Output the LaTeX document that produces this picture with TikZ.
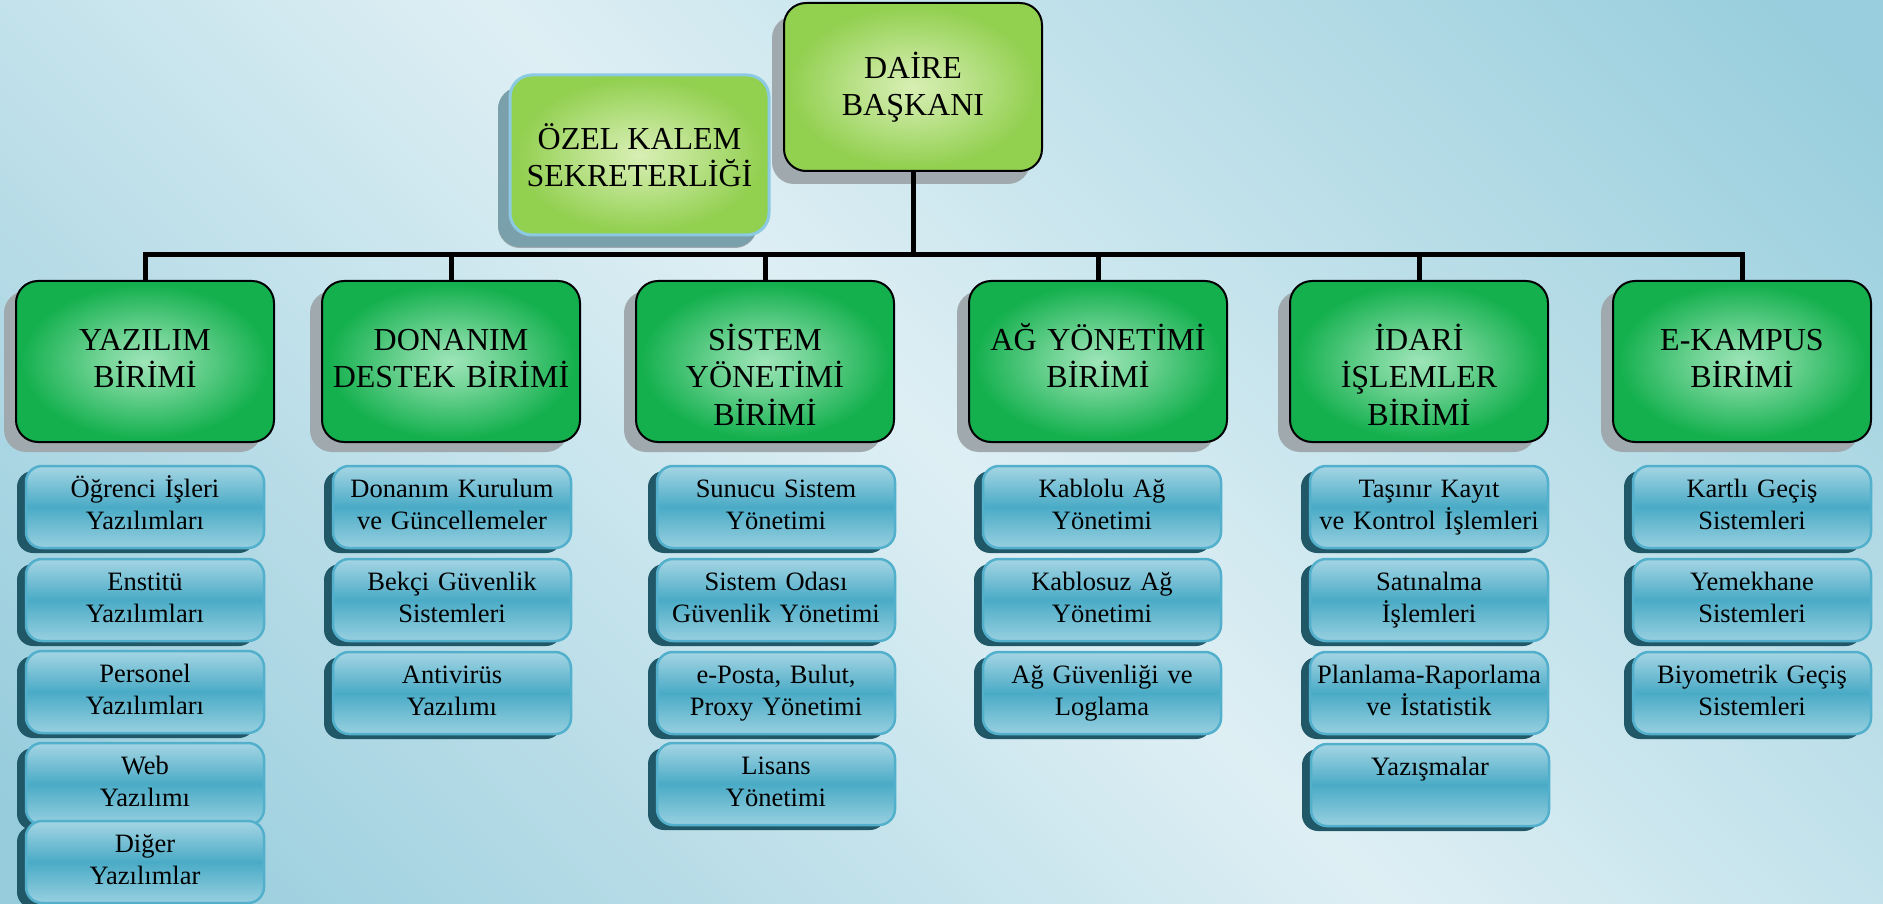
\documentclass[tikz,border=0pt]{standalone}
\usepackage{fontspec}
\setmainfont{Liberation Serif}
\usetikzlibrary{shadows}

\definecolor{bglight}{RGB}{222,239,244}
\definecolor{bgdark}{RGB}{152,206,221}
\definecolor{bgdarkb}{RGB}{150,204,220}
\definecolor{unitin}{RGB}{158,229,184}
\definecolor{unitout}{RGB}{20,176,78}
\colorlet{unitmid}{unitin!70!unitout}
\definecolor{headin}{RGB}{216,239,180}
\definecolor{headout}{RGB}{146,208,80}
\colorlet{headmid}{headin!70!headout}
\definecolor{headedge}{RGB}{140,202,226}
\definecolor{bluetop}{RGB}{165,213,228}
\definecolor{bluemid}{RGB}{74,171,198}
\definecolor{bluebot}{RGB}{152,208,224}
\definecolor{blueedge}{RGB}{82,176,204}
\definecolor{blueshadow}{RGB}{33,88,104}
\definecolor{greyshadow}{RGB}{160,169,173}
\definecolor{ozelshadow}{RGB}{122,160,172}

\pgfdeclarehorizontalshading{bgshade}{100bp}{color(0bp)=(bgdarkb); color(17bp)=(bgdarkb); color(50bp)=(bglight); color(83bp)=(bgdark); color(100bp)=(bgdark)}
\pgfdeclareradialshading{unitglow}{\pgfpoint{0bp}{0bp}}{color(0bp)=(unitin); color(8bp)=(unitmid); color(24bp)=(unitout); color(50bp)=(unitout)}
\pgfdeclareradialshading{headglow}{\pgfpoint{0bp}{0bp}}{color(0bp)=(headin); color(8bp)=(headmid); color(24bp)=(headout); color(50bp)=(headout)}

\tikzset{
  link/.style={line width=5pt, black},
  head/.style={rounded corners=22pt, draw=black, line width=2pt, shade, shading=headglow,
    minimum width=258pt, minimum height=168pt, inner sep=0pt, align=center,
    font=\fontsize{32}{37.5}\selectfont,
    drop shadow={shadow xshift=-12pt, shadow yshift=-13pt, fill=greyshadow, opacity=1}},
  ozelbox/.style={head, draw=headedge, line width=3pt, minimum width=259pt, minimum height=160pt,
    drop shadow={shadow xshift=-12pt, shadow yshift=-12pt, fill=ozelshadow, opacity=1}},
  unit/.style={rounded corners=22pt, draw=black, line width=2pt, shade, shading=unitglow,
    text width=258pt, inner sep=0pt, align=center, text height=69pt, text depth=92pt,
    font=\fontsize{32}{37.5}\selectfont,
    drop shadow={shadow xshift=-12pt, shadow yshift=-10pt, fill=greyshadow, opacity=1}},
  sub/.style={rounded corners=16pt, draw=blueedge, line width=2.5pt,
    top color=bluetop, bottom color=bluebot, middle color=bluemid,
    text width=238pt, inner sep=0pt, align=center, text height=31pt, text depth=51pt,
    font=\fontsize{26.5}{32}\selectfont,
    drop shadow={shadow xshift=-9pt, shadow yshift=-5pt, fill=blueshadow, opacity=1}}
}

\begin{document}
\begin{tikzpicture}[x=1pt, y=-1pt]
  % Background
  \useasboundingbox (0,0) rectangle (1883,904);
  \shade[shading=bgshade, shading angle=45] (0,0) rectangle (1883,904);

  % Head
  \node[ozelbox] (ozel) at (639.5,155) {ÖZEL KALEM\\SEKRETERLİĞİ};
  \node[head] (daire) at (913,87) {DAİRE\\BAŞKANI};

  % Units
  \node[unit] (yaz) at (145,361.5) {YAZILIM\\BİRİMİ};
  \node[unit] (don) at (451,361.5) {DONANIM\\DESTEK BİRİMİ};
  \node[unit] (sis) at (765,361.5) {SİSTEM\\YÖNETİMİ\\BİRİMİ};
  \node[unit] (ag)  at (1098,361.5) {AĞ YÖNETİMİ\\BİRİMİ};
  \node[unit] (ida) at (1419,361.5) {İDARİ\\İŞLEMLER\\BİRİMİ};
  \node[unit] (eka) at (1742,361.5) {E-KAMPUS\\BİRİMİ};

  % Lines
  \coordinate (bus) at (0,255);
  \draw[link] (daire.south) -- (daire.south |- bus);
  \draw[link] (yaz.north) -- (yaz.north |- bus) -- (eka.north |- bus) -- (eka.north);
  \draw[link] (don.north) -- (don.north |- bus);
  \draw[link] (sis.north) -- (sis.north |- bus);
  \draw[link] (ag.north) -- (ag.north |- bus);
  \draw[link] (ida.north) -- (ida.north |- bus);

  % Yazilim
  \node[sub] (yaz1) at (145,507) {Öğrenci İşleri\\Yazılımları};
  \node[sub] (yaz2) at (145,600) {Enstitü\\Yazılımları};
  \node[sub] (yaz3) at (145,692) {Personel\\Yazılımları};
  \node[sub] (yaz4) at (145,784) {Web\\Yazılımı};
  \node[sub] (yaz5) at (145,862) {Diğer\\Yazılımlar};

  % Donanim
  \node[sub] (don1) at (452,507) {Donanım Kurulum\\ve Güncellemeler};
  \node[sub] (don2) at (452,600) {Bekçi Güvenlik\\Sistemleri};
  \node[sub] (don3) at (452,693) {Antivirüs\\Yazılımı};

  % Sistem
  \node[sub] (sis1) at (776,507) {Sunucu Sistem\\Yönetimi};
  \node[sub] (sis2) at (776,600) {Sistem Odası\\Güvenlik Yönetimi};
  \node[sub] (sis3) at (776,693) {e-Posta, Bulut,\\Proxy Yönetimi};
  \node[sub] (sis4) at (776,784) {Lisans\\Yönetimi};

  % Ag
  \node[sub] (ag1) at (1102,507) {Kablolu Ağ\\Yönetimi};
  \node[sub] (ag2) at (1102,600) {Kablosuz Ağ\\Yönetimi};
  \node[sub] (ag3) at (1102,693) {Ağ Güvenliği ve\\Loglama};

  % Idari
  \node[sub] (ida1) at (1429,507) {Taşınır Kayıt\\ve Kontrol İşlemleri};
  \node[sub] (ida2) at (1429,600) {Satınalma\\İşlemleri};
  \node[sub] (ida3) at (1429,693) {Planlama-Raporlama\\ve İstatistik};
  \node[sub] (ida4) at (1430,785) {Yazışmalar};

  % E-Kampus
  \node[sub] (eka1) at (1752,507) {Kartlı Geçiş\\Sistemleri};
  \node[sub] (eka2) at (1752,600) {Yemekhane\\Sistemleri};
  \node[sub] (eka3) at (1752,693) {Biyometrik Geçiş\\Sistemleri};
\end{tikzpicture}
\end{document}
